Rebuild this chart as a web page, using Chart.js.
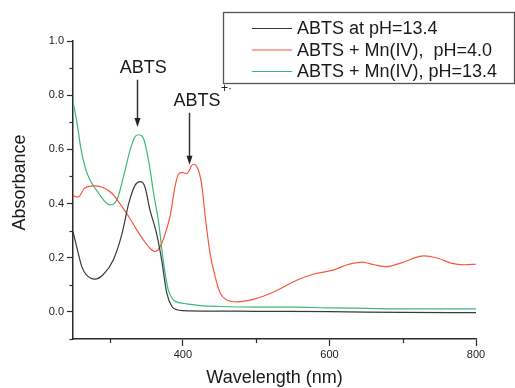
<!DOCTYPE html>
<html>
<head>
<meta charset="utf-8">
<script src="https://cdn.jsdelivr.net/npm/chart.js@4"></script>
<style>
  html, body { margin: 0; padding: 0; background: #fff; }
  #wrap { width: 515px; height: 388px; position: relative; }
</style>
</head>
<body>
<div id="wrap"><canvas id="c" width="515" height="388"></canvas></div>
<script>
// ---- data ----
const seriesLabels = ['ABTS at pH=13.4', 'ABTS + Mn(IV),  pH=4.0', 'ABTS + Mn(IV), pH=13.4'];

const blackWl = [250,255,262,268,280,291,305,317,326,335,342,348,355,364,371,378,385,392,400,450,500,600,700,800];
const blackAbs = [0.297,0.241,0.167,0.138,0.121,0.137,0.192,0.29,0.40,0.469,0.481,0.463,0.377,0.29,0.192,0.069,0.02,0.008,0.005,0.003,0.002,0.001,-0.002,-0.003];

const redWl = [250,257,266,280,291,303,314,326,337,346,355,362,369,376,383,389,394,399,405,414,421,426,431,437,444,451,460,474,497,520,547,556,579,606,624,645,661,677,697,729,748,766,784,800];
const redAbs = [0.428,0.424,0.457,0.465,0.459,0.438,0.40,0.352,0.303,0.266,0.235,0.223,0.241,0.29,0.36,0.46,0.508,0.515,0.51,0.545,0.525,0.463,0.34,0.217,0.13,0.069,0.044,0.037,0.047,0.069,0.106,0.118,0.14,0.155,0.174,0.184,0.174,0.167,0.18,0.207,0.198,0.18,0.174,0.176];

const greenWl = [250,255,261,267,273,285,300,310,319,328,335,340,346,353,360,367,373,380,387,395,405,424,450,500,550,600,650,700,800];
const greenAbs = [0.777,0.705,0.60,0.53,0.488,0.438,0.395,0.414,0.50,0.598,0.648,0.654,0.642,0.561,0.438,0.328,0.192,0.081,0.044,0.034,0.030,0.023,0.020,0.018,0.018,0.015,0.013,0.011,0.011];

const xTickValues = [300,400,500,600,700,800];
const xTickLabels = ['', '400', '', '600', '', '800'];
const yTickValues = [-0.1,0.0,0.1,0.2,0.3,0.4,0.5,0.6,0.7,0.8,0.9,1.0];
const yTickLabels = ['', '0.0', '', '0.2', '', '0.4', '', '0.6', '', '0.8', '', '1.0'];

const xTitle = 'Wavelength (nm)';
const yTitle = 'Absorbance';

// annotation texts and anchor points in data units (wavelength, absorbance)
const noteTexts = ['ABTS', 'ABTS'];
const noteSup = ['', '+·'];
const noteWl = [346, 387];
const noteAbs = [0.90, 0.78];
const arrowWl = [338, 408.7];
const arrowFrom = [0.857, 0.735];
const arrowTo = [0.683, 0.543];

// ---- styles ----
const FONT = '"Liberation Sans", Arial, Helvetica, sans-serif';
const colors = ['#3a3a3a', '#f4583f', '#3cb878'];
const axisColor = '#2a2a2a';

function pts(xs, ys) { return xs.map((x, i) => ({ x: x, y: ys[i] })); }

const datasets = [
  { label: seriesLabels[0], data: pts(blackWl, blackAbs), borderColor: colors[0] },
  { label: seriesLabels[1], data: pts(redWl, redAbs), borderColor: colors[1] },
  { label: seriesLabels[2], data: pts(greenWl, greenAbs), borderColor: colors[2] }
].map(d => Object.assign(d, {
  borderWidth: 1.2, pointRadius: 0, fill: false,
  cubicInterpolationMode: 'monotone'
}));

const isMajorX = v => xTickLabels[xTickValues.indexOf(v)] !== '';
const isMajorY = v => yTickLabels[yTickValues.findIndex(t => Math.abs(t - v) < 1e-6)] !== '';

const decor = {
  id: 'decor',
  afterDraw(chart) {
    const ctx = chart.ctx;
    const xs = chart.scales.x, ys = chart.scales.y;
    const ca = chart.chartArea;
    ctx.save();
    // minor ticks
    ctx.strokeStyle = axisColor;
    ctx.lineWidth = 1.2;
    xTickValues.forEach((v, i) => {
      if (xTickLabels[i] === '') {
        const px = Math.round(xs.getPixelForValue(v)) + 0.5;
        ctx.beginPath(); ctx.moveTo(px, ca.bottom); ctx.lineTo(px, ca.bottom + 4); ctx.stroke();
      }
    });
    yTickValues.forEach((v, i) => {
      if (yTickLabels[i] === '') {
        const py = Math.round(ys.getPixelForValue(v)) + 0.5;
        ctx.beginPath(); ctx.moveTo(ca.left, py); ctx.lineTo(ca.left - 3.5, py); ctx.stroke();
      }
    });

    // axis titles
    ctx.fillStyle = '#1a1a1a';
    ctx.font = '18px ' + FONT;
    ctx.textAlign = 'center';
    ctx.textBaseline = 'middle';
    ctx.fillText(xTitle, (ca.left + ca.right) / 2, 378);
    ctx.save();
    ctx.translate(20, 182.5);
    ctx.rotate(-Math.PI / 2);
    ctx.fillText(yTitle, 0, 0);
    ctx.restore();

    // annotations
    ctx.font = '18px ' + FONT;
    ctx.fillStyle = '#1a1a1a';
    noteTexts.forEach((t, i) => {
      const px = xs.getPixelForValue(noteWl[i]);
      const py = ys.getPixelForValue(noteAbs[i]);
      if (noteSup[i]) {
        ctx.textAlign = 'left';
        ctx.fillText(t, px, py);
        const w = ctx.measureText(t).width;
        ctx.font = '12px ' + FONT;
        ctx.fillText(noteSup[i], px + w + 0.5, py - 12);
        ctx.font = '18px ' + FONT;
      } else {
        ctx.textAlign = 'center';
        ctx.fillText(t, px, py);
      }
    });
    // arrows
    ctx.strokeStyle = '#333';
    ctx.fillStyle = '#222';
    ctx.lineWidth = 1.5;
    arrowWl.forEach((w, i) => {
      const px = Math.round(xs.getPixelForValue(w)) + 0.5;
      const y0 = ys.getPixelForValue(arrowFrom[i]);
      const y1 = ys.getPixelForValue(arrowTo[i]);
      ctx.beginPath(); ctx.moveTo(px, y0); ctx.lineTo(px, y1 - 7); ctx.stroke();
      ctx.beginPath();
      ctx.moveTo(px - 3, y1 - 9); ctx.lineTo(px + 3, y1 - 9); ctx.lineTo(px, y1); ctx.closePath(); ctx.fill();
    });

    // legend box
    ctx.strokeStyle = '#555';
    ctx.lineWidth = 1.3;
    ctx.strokeRect(223.5, 12.5, 291, 71);
    ctx.font = '18px ' + FONT;
    ctx.textAlign = 'left';
    ctx.textBaseline = 'middle';
    const rows = [28.5, 50, 71.5];
    chart.data.datasets.forEach((d, i) => {
      ctx.strokeStyle = d.borderColor;
      ctx.lineWidth = 1;
      ctx.beginPath(); ctx.moveTo(252, rows[i]); ctx.lineTo(292, rows[i]); ctx.stroke();
      ctx.fillStyle = '#1a1a1a';
      ctx.fillText(d.label, 297, rows[i] + 1);
    });
    ctx.restore();
  }
};

new Chart(document.getElementById('c'), {
  type: 'line',
  data: { datasets: datasets },
  options: {
    responsive: false,
    animation: false,
    devicePixelRatio: 1,
    layout: { padding: { top: 41, right: 39, left: 0, bottom: 0 } },
    plugins: { legend: { display: false }, tooltip: { enabled: false } },
    scales: {
      x: {
        type: 'linear', min: 250, max: 800,
        afterBuildTicks: s => { s.ticks = xTickValues.map(v => ({ value: v })); },
        afterFit: s => { s.height = 49; },
        border: { display: true, color: axisColor, width: 1.5 },
        grid: {
          drawOnChartArea: false, drawTicks: true, tickLength: 7, tickWidth: 1.2,
          tickColor: c => (c.tick && isMajorX(c.tick.value)) ? axisColor : 'rgba(0,0,0,0)'
        },
        ticks: {
          autoSkip: false, maxRotation: 0, padding: 2,
          color: '#222', font: { family: FONT, size: 11 },
          callback: (v) => { const i = xTickValues.indexOf(v); return i >= 0 ? xTickLabels[i] : ''; }
        }
      },
      y: {
        type: 'linear', min: -0.1, max: 1.0,
        afterBuildTicks: s => { s.ticks = yTickValues.map(v => ({ value: v })); },
        afterFit: s => { s.width = 73; },
        border: { display: true, color: axisColor, width: 1.5 },
        grid: {
          drawOnChartArea: false, drawTicks: true, tickLength: 6, tickWidth: 1.2,
          tickColor: c => (c.tick && isMajorY(c.tick.value)) ? axisColor : 'rgba(0,0,0,0)'
        },
        ticks: {
          autoSkip: false, padding: 3,
          color: '#222', font: { family: FONT, size: 11 },
          callback: (v) => { const i = yTickValues.findIndex(t => Math.abs(t - v) < 1e-6); return i >= 0 ? yTickLabels[i] : ''; }
        }
      }
    }
  },
  plugins: [decor]
});
</script>
</body>
</html>
